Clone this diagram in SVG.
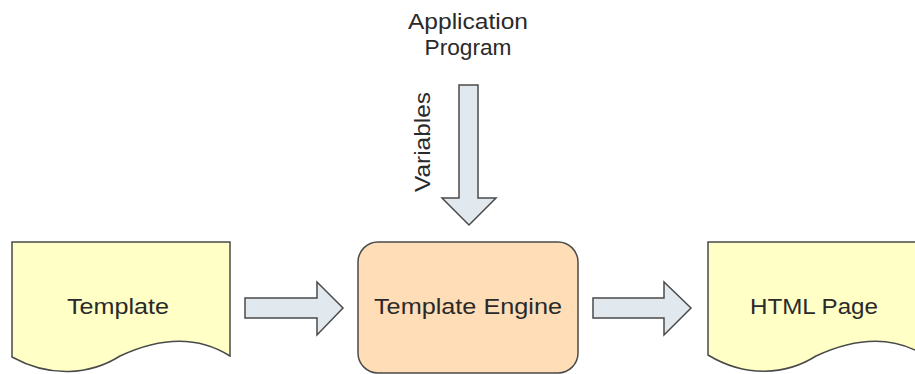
<svg xmlns="http://www.w3.org/2000/svg" width="915" height="374" viewBox="0 0 915 374">
<style>
.doc{fill:#FFFFC6;stroke:#4a4a4a;stroke-width:1.5}
.eng{fill:#FFDDB6;stroke:#4a4a4a;stroke-width:1.5}
.arr{fill:#E2E9EE;stroke:#4a4a4a;stroke-width:1.5;stroke-linejoin:miter}
text{font-family:"Liberation Sans",Arial,sans-serif;font-size:22px;fill:#2a2a2a}
.c{text-anchor:middle}
</style>
<rect width="915" height="374" fill="#ffffff"/>
<g id="template">
<path class="doc" d="M12,242 H230 V356 C200,337 165,335 120,356 C90,375 50,378 12,357 Z"/>
<text class="c" x="118" y="314" textLength="102" lengthAdjust="spacingAndGlyphs">Template</text>
</g>
<g id="engine">
<rect class="eng" x="358" y="242" width="220" height="131" rx="20" ry="20"/>
<text class="c" x="468" y="314" textLength="188" lengthAdjust="spacingAndGlyphs">Template Engine</text>
</g>
<g id="html">
<path class="doc" d="M708,242 H926 V356 C896,337 861,335 816,356 C786,375 746,378 708,355 Z"/>
<text class="c" x="814" y="314" textLength="128" lengthAdjust="spacingAndGlyphs">HTML Page</text>
</g>
<g id="app">
<text class="c" x="468" y="29" textLength="120" lengthAdjust="spacingAndGlyphs">Application</text>
<text class="c" x="468" y="55" textLength="87" lengthAdjust="spacingAndGlyphs">Program</text>
</g>
<g id="connectors">
<path class="arr" d="M245,298 H317 V282 L343,308 L317,335 V318 H245 Z"/>
<path class="arr" d="M593,298 H664 V282 L691,308 L664,335 V318 H593 Z"/>
<path class="arr" d="M459,85 H478 V198 H496 L469,225 L442,198 H459 Z"/>
<text class="c" transform="translate(430,142) rotate(-90)" x="0" y="0" textLength="100" lengthAdjust="spacingAndGlyphs">Variables</text>
</g>
</svg>
